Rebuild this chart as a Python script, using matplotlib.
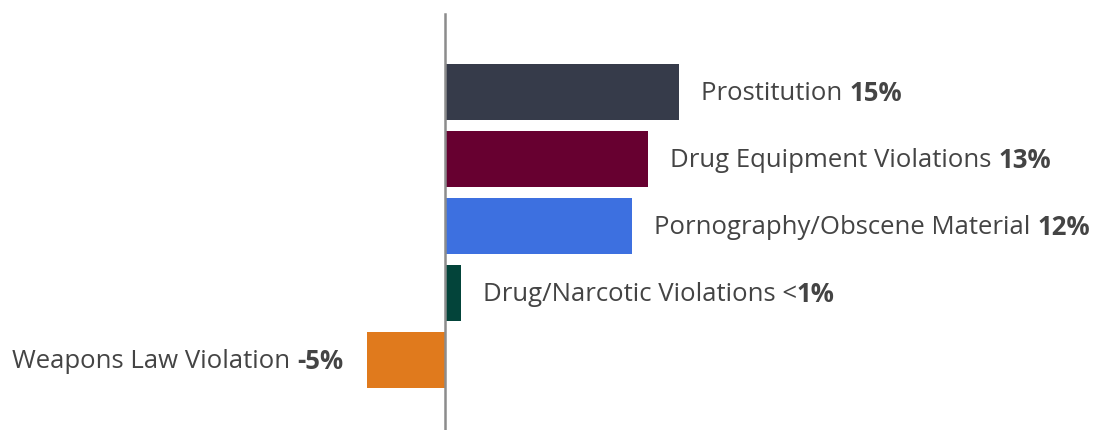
import matplotlib
matplotlib.use("Agg")
import matplotlib.pyplot as plt

plt.rcParams['font.family'] = ['Open Sans', 'DejaVu Sans']

# 資料
categories = ['Prostitution', 'Drug Equipment Violations', 'Pornography/Obscene Material',
              'Drug/Narcotic Violations', 'Weapons Law Violation']
values = [15, 13, 12, 1, -5]
value_labels = ['15%', '13%', '12%', '1%', '-5%']
prefixes = ['', '', '', '<', '']
colors = ['#363b4a', '#670030', '#3d70e0', '#03443a', '#e07a1d']

fig = plt.figure(figsize=(11.02, 4.30), dpi=100)
ax = fig.add_axes([0, 0, 1, 1])

y = list(range(len(categories)))
ax.barh(y, values, height=0.84, color=colors)

ax.set_xlim(-445 / 15.6, 657 / 15.6)
ax.set_ylim(5.05, -1.37)
ax.axis('off')
# 零軸
ax.plot([0, 0], [5.05, -1.16], color='#8c8c8c', lw=1.8)

txt_color = '#444444'
fs = 18.5
for i, (cat, v, lab, pre) in enumerate(zip(categories, values, value_labels, prefixes)):
    if v >= 0:
        t = ax.annotate(cat + ' ' + pre, (v, i), xytext=(16, -1), textcoords='offset points',
                        ha='left', va='center', fontsize=fs, color=txt_color)
        ax.annotate(lab, xycoords=t, xy=(1, 0.5), va='center', ha='left',
                    fontsize=fs, fontweight='bold', color=txt_color)
    else:
        t = ax.annotate(lab, (v, i), xytext=(-17, -1), textcoords='offset points',
                        ha='right', va='center', fontsize=fs, fontweight='bold', color=txt_color)
        ax.annotate(cat + ' ', xycoords=t, xy=(0, 0.5), va='center', ha='right',
                    fontsize=fs, color=txt_color)

fig.savefig('out.png', dpi=100)
